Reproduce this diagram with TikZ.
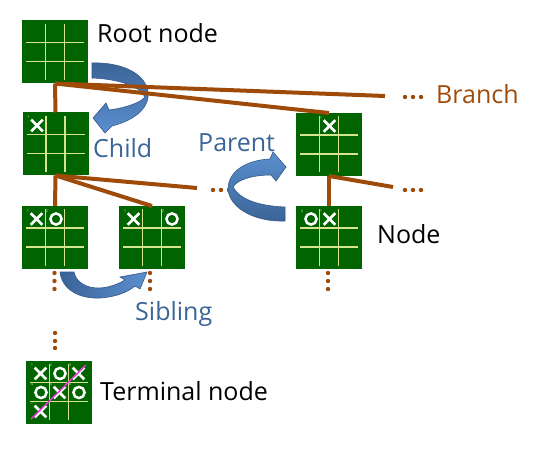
\documentclass[tikz,border=0pt]{standalone}
\usepackage{fontspec}
\setmainfont{Open Sans}
\definecolor{boardgreen}{HTML}{006400}
\definecolor{gridcol}{HTML}{D6E48E}
\definecolor{branchbrown}{HTML}{9E4B0A}
\definecolor{labelblue}{HTML}{3B6597}
\definecolor{arrowlight}{HTML}{5B8FCF}
\definecolor{arrowdark}{HTML}{3A6497}
\definecolor{arrowedge}{HTML}{34598A}
\definecolor{winline}{HTML}{F030E0}
\tikzset{
  board/.style={fill=boardgreen, draw=none, minimum width=66bp, minimum height=63bp, inner sep=0pt, outer sep=0pt},
  gridline/.style={draw=gridcol, line width=1.3bp},
  crossmark/.style={draw=white, line width=2.7bp},
  ringmark/.style={draw=white, line width=2.5bp},
  tttnum/.style={text=gridcol, font=\fontsize{4bp}{4bp}\selectfont, inner sep=0pt},
  branchline/.style={draw=branchbrown, line width=4bp},
  brdot/.style={fill=branchbrown, draw=none},
  ribbon/.style={draw=arrowedge, line width=0.6bp},
  basetext/.style={anchor=base west, inner sep=0pt, font=\fontsize{25bp}{30bp}\selectfont},
  blacktext/.style={basetext, text=black},
  bluetext/.style={basetext, text=labelblue},
  browntext/.style={basetext, text=branchbrown},
}
\newcommand{\tttboard}[3]{%
  \node[board] (#1) at (#2) {};
  \begin{scope}[shift={(#2)}]
    \draw[gridline] (-9.5,-28) -- (-9.5,28) (9.5,-28) -- (9.5,28) (-29,-9.5) -- (29,-9.5) (-29,9.5) -- (29,9.5);
    #3
  \end{scope}}
\newcommand{\putX}[3]{\begin{scope}[shift={({#1*19+0.5},{#2*19+0.5})}]\draw[crossmark] (-5.8,-5.8) -- (5.8,5.8) (-5.8,5.8) -- (5.8,-5.8);\node[tttnum] at (-8.5,-8) {#3};\end{scope}}
\newcommand{\putO}[3]{\begin{scope}[shift={({#1*19+0.5},{#2*19+0.5})}]\draw[ringmark] (0.5,0) circle[radius=5.6bp];\node[tttnum] at (-8.5,-8) {#3};\end{scope}}
\begin{document}
\begin{tikzpicture}[x=1bp, y=-1bp]
\useasboundingbox (0,0) rectangle (541,450);
% boards
\tttboard{root}{55,52}{}
\tttboard{child}{55.5,144}{\putX{-1}{-1}{1}}
\tttboard{bA}{55,237.5}{\putX{-1}{-1}{1}\putO{0}{-1}{2}}
\tttboard{bB}{152,237.5}{\putX{-1}{-1}{1}\putO{1}{-1}{2}}
\tttboard{rA}{329,144.5}{\putX{0}{-1}{1}}
\tttboard{rB}{329,237.5}{\putO{-1}{-1}{2}\putX{0}{-1}{1}}
\tttboard{term}{59,392}{\putX{-1}{-1}{1}\putO{0}{-1}{2}\putX{1}{-1}{3}\putO{-1}{0}{4}\putX{0}{0}{5}\putO{1}{0}{6}\putX{-1}{1}{7}}
\draw[winline, line width=1.4bp] (31,419) -- (86,365);
% child arrow (under the branch lines)
\path[ribbon, top color=arrowdark, bottom color=arrowlight]
  (92,63) .. controls (128,62) and (150,78) .. (148,97)
  .. controls (147,110) and (132,121) .. (112,126)
  -- (105,133) -- (93,118) -- (106,103) -- (109,110)
  .. controls (125,108) and (140,103) .. (145,97)
  .. controls (140,86) and (118,79) .. (92,78) -- cycle;
% branch lines
\coordinate (brEnd) at (385,96);
\coordinate (chEnd) at (197,188);
\coordinate (rEnd) at (393,187);
\draw[branchline] (root.south) -- (child.north);
\draw[branchline] (root.south) -- (brEnd);
\draw[branchline] (root.south) -- (rA.north);
\draw[branchline] (child.south) -- (bA.north);
\draw[branchline] (child.south) -- (bB.north);
\draw[branchline] (child.south) -- (chEnd);
\draw[branchline] (rA.south) -- (rB.north);
\draw[branchline] (rA.south) -- (rEnd);
% dots
\foreach \x in {405,413,421} {\fill[brdot] (\x,97) circle[radius=2.2bp]; \fill[brdot] (\x,190) circle[radius=2.2bp];}
\foreach \x in {213,221,229} {\fill[brdot] (\x,190) circle[radius=2.2bp];}
\foreach \y in {273,281,289} {\fill[brdot] (54.5,\y) circle[radius=2.2bp]; \fill[brdot] (150,\y) circle[radius=2.2bp]; \fill[brdot] (328,\y) circle[radius=2.2bp];}
\foreach \y in {333,341,348} {\fill[brdot] (55,\y) circle[radius=2.2bp];}
% parent arrow
\path[ribbon, top color=arrowlight, bottom color=arrowdark]
  (285,221) .. controls (250,222) and (228,205) .. (228,188)
  .. controls (229,170) and (248,160) .. (270,159)
  -- (273,152) -- (286,167) -- (276,181) -- (271,175)
  .. controls (252,175) and (237,180) .. (233,187)
  .. controls (240,200) and (260,206) .. (285,207) -- cycle;
% sibling arrow
\path[ribbon, left color=arrowdark, right color=arrowlight]
  (60,272) .. controls (62,290) and (80,299) .. (100,298)
  .. controls (116,297) and (128,292) .. (135,286)
  -- (140,289) -- (147,272) -- (120,277) -- (125,280)
  .. controls (115,286) and (105,288) .. (98,288)
  .. controls (86,288) and (76,282) .. (74,272) -- cycle;
% labels
\node[blacktext] (rootlabel) at (97,43) {Root node};
\node[bluetext] (childlabel) at (93,158) {Child};
\node[bluetext] (parentlabel) at (198,152) {Parent};
\node[browntext] (branchlabel) at (436,104) {Branch};
\node[blacktext] (nodelabel) at (377,244) {Node};
\node[bluetext] (siblinglabel) at (135,320) {Sibling};
\node[blacktext] (termlabel) at (100,400) {Terminal node};
\end{tikzpicture}
\end{document}
